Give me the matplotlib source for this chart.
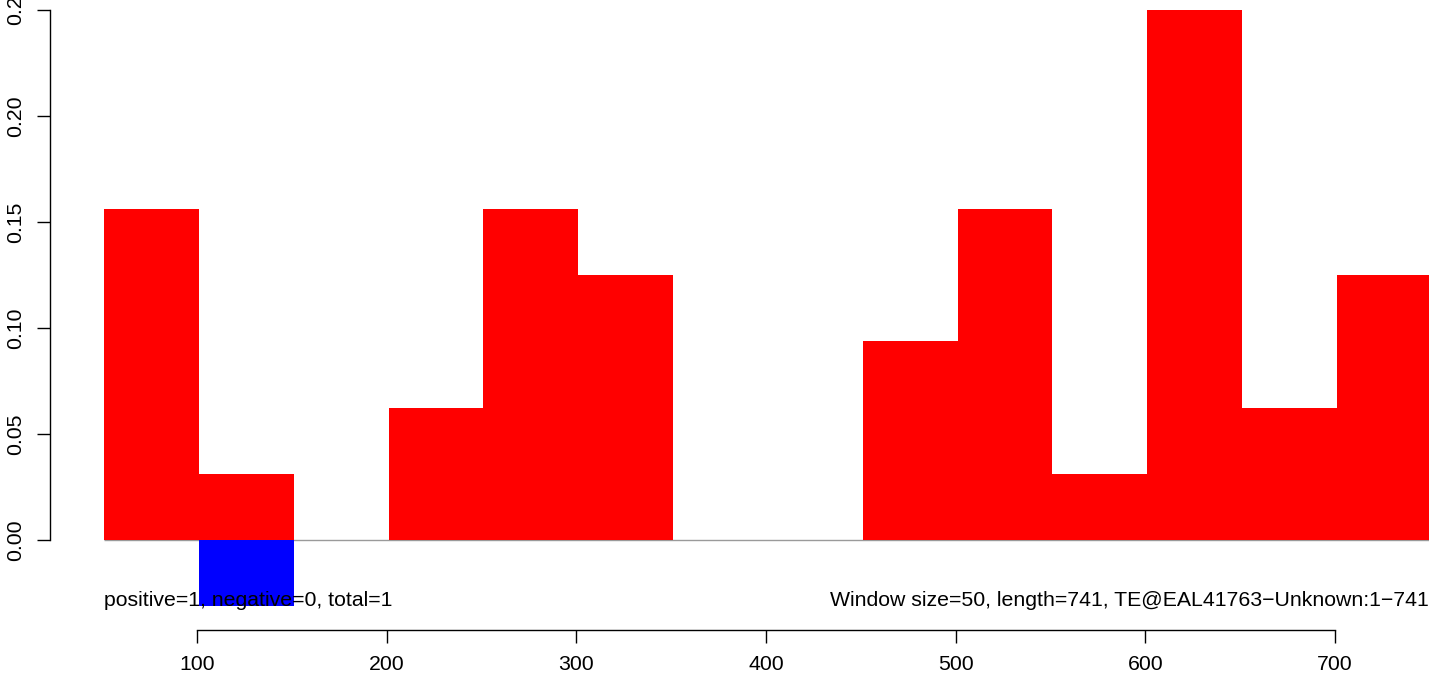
import matplotlib
matplotlib.use("Agg")
import matplotlib.pyplot as plt

# Window start positions (window size 50)
window_starts = [51, 101, 151, 201, 251, 301, 351, 401, 451, 501, 551, 601, 651, 701]
positive_vals = [0.15625, 0.03125, 0.0, 0.0625, 0.15625, 0.125, 0.0, 0.0,
                 0.09375, 0.15625, 0.03125, 0.25, 0.0625, 0.125]
negative_vals = [0.0, -0.03125, 0.0, 0.0, 0.0, 0.0, 0.0, 0.0,
                 0.0, 0.0, 0.0, 0.0, 0.0, 0.0]
window_size = 50
x_ticks = [100, 200, 300, 400, 500, 600, 700]
y_ticks = [0.0, 0.05, 0.10, 0.15, 0.20, 0.25]
y_tick_labels = ["0.00", "0.05", "0.10", "0.15", "0.20", "0.2"]
left_note = "positive=1, negative=0, total=1"
right_note = "Window size=50, length=741, TE@EAL41763\u2212Unknown:1\u2212741"

plt.rcParams['font.family'] = ['Liberation Sans', 'DejaVu Sans']
FS = 15.3

W, H = 1429, 678
fig = plt.figure(figsize=(W / 100, H / 100), dpi=100)
ax = fig.add_axes([0, 0, 1, 1])

# pixel mapping from reference
px_per_x = (1335 - 197) / 600.0
px_per_y = 2120.0
x0 = 100 - 197 / px_per_x
x1 = 100 + (W - 197) / px_per_x
y1 = 540 / px_per_y
y0 = -(H - 540) / px_per_y
ax.set_xlim(x0, x1)
ax.set_ylim(y0, y1)

ax.hlines(0, window_starts[0], window_starts[-1] + window_size, color='#9a9a9a', lw=1.0, zorder=1)
ax.bar(window_starts, positive_vals, width=window_size, align='edge', color='#ff0000', lw=0, zorder=2)
ax.bar(window_starts, negative_vals, width=window_size, align='edge', color='#0000ff', lw=0, zorder=2)

# axes styling (R base style)
for s in ['top', 'right']:
    ax.spines[s].set_visible(False)
ax.spines['left'].set_position(('data', 100 + (50 - 197) / px_per_x))
ax.spines['left'].set_bounds(0, 0.25)
ax.spines['bottom'].set_position(('data', -(630 - 540) / px_per_y))
ax.spines['bottom'].set_bounds(100, 700)
for s in ['left', 'bottom']:
    ax.spines[s].set_linewidth(1.0)

ax.set_xticks(x_ticks)
ax.set_xticklabels([str(t) for t in x_ticks])
ax.set_yticks(y_ticks)
ax.set_yticklabels(y_tick_labels)
ax.tick_params(axis='both', length=9.4, width=1.0, labelsize=FS, pad=8.5)
ax.tick_params(axis='y', labelrotation=90)
for lab in ax.get_yticklabels():
    lab.set_va('center')
    lab.set_ha('right')
ax.set_facecolor('none')

ax.text(window_starts[0], -(600 - 540) / px_per_y, left_note, ha='left', va='center', fontsize=FS, zorder=3)
ax.text(x1, -(600 - 540) / px_per_y, right_note, ha='right', va='center', fontsize=FS, zorder=3)

fig.savefig("out.png", dpi=100)
